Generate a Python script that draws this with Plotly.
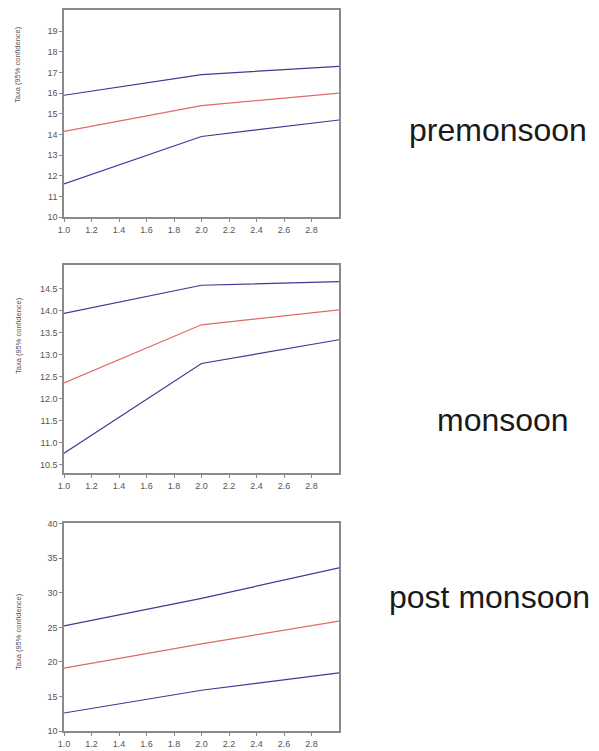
import plotly.graph_objects as go

# page body has an 8px margin, so the figure is sized to fit the 599x751 window
OFF = 8
W, H = 599 - OFF, 751 - OFF

x_vals = [1, 2, 3]

pre_upper = [15.9, 16.9, 17.3]
pre_mean = [14.15, 15.4, 16.0]
pre_lower = [11.6, 13.9, 14.7]

mon_upper = [13.94, 14.58, 14.66]
mon_mean = [12.36, 13.68, 14.02]
mon_lower = [10.76, 12.8, 13.34]

post_upper = [25.2, 29.2, 33.6]
post_mean = [19.1, 22.6, 25.9]
post_lower = [12.6, 15.9, 18.4]

season_labels = ["premonsoon", "monsoon", "post monsoon"]
y_title = "Taxa (95% confidence)"

x_ticks = [1.0, 1.2, 1.4, 1.6, 1.8, 2.0, 2.2, 2.4, 2.6, 2.8]
pre_ticks = [10, 11, 12, 13, 14, 15, 16, 17, 18, 19]
mon_ticks = [10.5, 11.0, 11.5, 12.0, 12.5, 13.0, 13.5, 14.0, 14.5]
post_ticks = [10, 15, 20, 25, 30, 35, 40]

BLUE = "#3b3b96"
RED = "#e06a6a"
AXC = "#8a8a8a"
TXT = "#555555"

def px_x(p):
    return (p - OFF) / W

def px_y(p):
    return 1 - (p - OFF) / H

panels = [
    (pre_lower, pre_mean, pre_upper, pre_ticks, [10, 20.03], ".0f", (10, 217)),
    (mon_lower, mon_mean, mon_upper, mon_ticks, [10.31, 15.04], ".1f", (265, 473)),
    (post_lower, post_mean, post_upper, post_ticks, [10, 40.1], ".0f", (523, 731)),
]

fig = go.Figure()
layout = dict(
    width=W, height=H, autosize=False,
    margin=dict(l=0, r=0, t=0, b=0),
    paper_bgcolor="white", plot_bgcolor="white",
    showlegend=False,
    font=dict(family="Liberation Sans, Arial", color=TXT, size=9),
)

for i, (lo, mid, up, yt, yr, fmt, (ptop, pbot)) in enumerate(panels):
    n = i + 1
    xa = "x" if n == 1 else f"x{n}"
    ya = "y" if n == 1 else f"y{n}"
    for ser, col in ((up, BLUE), (mid, RED), (lo, BLUE)):
        fig.add_trace(go.Scatter(x=x_vals, y=ser, mode="lines",
                                 line=dict(color=col, width=1.2),
                                 xaxis=xa, yaxis=ya, hoverinfo="skip"))
    layout[f"xaxis{'' if n == 1 else n}"] = dict(
        domain=[px_x(64), px_x(339)], range=[1, 3], anchor=ya,
        tickvals=x_ticks, tickformat=".1f", ticks="outside", ticklen=3,
        tickcolor=AXC, showline=True, linecolor=AXC, linewidth=1.5,
        mirror=True, showgrid=False, zeroline=False,
        tickfont=dict(size=9, color=TXT), automargin=False,
    )
    layout[f"yaxis{'' if n == 1 else n}"] = dict(
        domain=[px_y(pbot), px_y(ptop)], range=yr, anchor=xa,
        tickvals=yt, tickformat=fmt, ticks="outside", ticklen=3,
        tickcolor=AXC, showline=True, linecolor=AXC, linewidth=1.5,
        mirror=True, showgrid=False, zeroline=False,
        tickfont=dict(size=9, color=TXT), automargin=False,
    )

title_centers = [65, 336, 632]
label_pos = [(498, 130), (503, 420), (489, 597)]
annotations = []
for yc in title_centers:
    annotations.append(dict(text=y_title, x=px_x(18), y=px_y(yc), xref="paper", yref="paper",
                            showarrow=False, textangle=-90, font=dict(size=7.5, color=TXT),
                            xanchor="center", yanchor="middle"))
for lab, (cx, cy) in zip(season_labels, label_pos):
    annotations.append(dict(text=lab, x=px_x(cx), y=px_y(cy), xref="paper", yref="paper",
                            showarrow=False, font=dict(size=32, color="#1a1a1a",
                                                       family="Liberation Sans, Arial"),
                            xanchor="center", yanchor="middle"))
layout["annotations"] = annotations

fig.update_layout(**layout)
fig.write_html("out.html")
